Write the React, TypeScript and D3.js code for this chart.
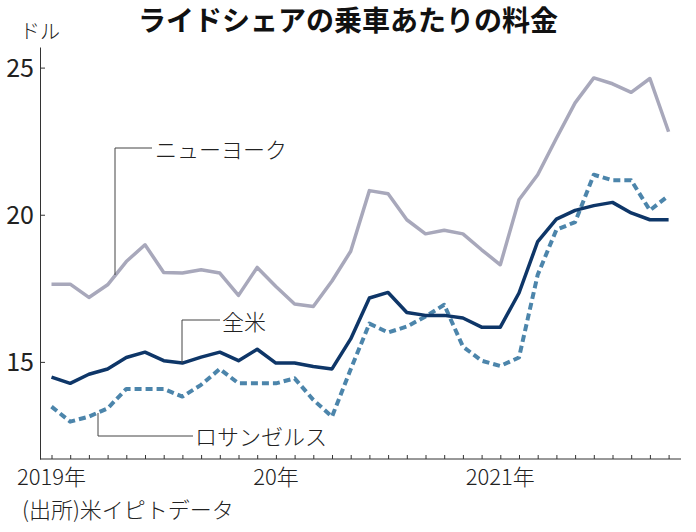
import { useEffect, useRef } from 'react'
import * as d3 from 'd3'

// monthly fares, Jan 2019 - Oct 2021 (USD per ride)
const newYork = [17.64, 17.64, 17.19, 17.62, 18.41, 18.98, 18.04, 18.02, 18.13, 18.02, 17.26, 18.21,
  17.56, 16.97, 16.88, 17.75, 18.76, 20.82, 20.71, 19.83, 19.35, 19.47, 19.35, 18.81,
  18.3, 20.51, 21.36, 22.6, 23.8, 24.65, 24.45, 24.16, 24.63, 22.82]
const national = [14.48, 14.27, 14.58, 14.76, 15.15, 15.33, 15.04, 14.96, 15.16, 15.33, 15.04, 15.43,
  14.96, 14.96, 14.84, 14.76, 15.78, 17.17, 17.36, 16.68, 16.58, 16.58, 16.49, 16.18,
  16.18, 17.34, 19.09, 19.85, 20.15, 20.31, 20.42, 20.06, 19.83, 19.83]
const losAngeles = [13.48, 12.97, 13.14, 13.42, 14.08, 14.08, 14.08, 13.82, 14.22, 14.76, 14.27, 14.27,
  14.27, 14.44, 13.71, 13.14, 14.75, 16.3, 16.0, 16.2, 16.54, 16.94, 15.52, 15.04,
  14.86, 15.15, 17.96, 19.49, 19.75, 21.36, 21.17, 21.17, 20.15, 20.65]

const months = d3.timeMonth.range(new Date(2019, 0, 1), new Date(2021, 10, 1)).map(d3.timeFormat('%Y-%m'))
const yearTicks = ['2019-01', '2020-01', '2021-01']
const yearLabels = ['2019年', '20年', '2021年']
const yTicks = [15, 20, 25]

const W = 696
const H = 532
const JP = "'Noto Sans CJK JP', sans-serif"
const NUM = "'Liberation Sans Narrow', 'Noto Sans CJK JP', sans-serif"

function App() {
  const svgRef = useRef<SVGSVGElement>(null)

  useEffect(() => {
    const svg = d3.select(svgRef.current)
    svg.selectAll('*').remove()

    const x = d3.scalePoint<string>().domain(months).range([51.5, 668.6])
    const y = d3.scaleLinear().domain([11.7, 25.7]).range([459, 47])

    // title + unit
    svg.append('text')
      .attr('x', 348).attr('y', 31)
      .attr('text-anchor', 'middle')
      .attr('font-family', JP).attr('font-weight', 700).attr('font-size', 28)
      .attr('fill', '#111')
      .text('ライドシェアの乗車あたりの料金')
    svg.append('text')
      .attr('x', 20).attr('y', 39)
      .attr('font-family', JP).attr('font-weight', 300).attr('font-size', 20).attr('fill', '#222')
      .text('ドル')

    // y axis, ticks pointing inward
    const yAxis = d3.axisLeft(y).tickValues(yTicks).tickSizeInner(-5).tickSizeOuter(0).tickPadding(6)
    const gy = svg.append('g').attr('transform', 'translate(40,0)').call(yAxis)
    gy.select('.domain').attr('stroke', '#333')
    gy.selectAll('.tick line').attr('stroke', '#333')
    gy.selectAll('.tick text')
      .attr('font-family', NUM).attr('font-size', 25).attr('fill', '#222')
      .attr('dy', '0.34em')

    // x axis: monthly ticks, year labels only
    svg.append('line')
      .attr('x1', 40).attr('x2', 681).attr('y1', 459).attr('y2', 459)
      .attr('stroke', '#333')
    const xAxis = d3.axisBottom(x).tickSize(-4).tickFormat(() => '')
    const gx = svg.append('g').attr('transform', 'translate(0,459)').call(xAxis)
    gx.select('.domain').remove()
    gx.selectAll('.tick line').attr('stroke', '#333')

    svg.append('g').selectAll('text')
      .data(yearTicks)
      .join('text')
        .attr('x', (d) => x(d)!)
        .attr('y', 485)
        .attr('text-anchor', 'middle')
        .attr('font-family', NUM).attr('font-weight', 300).attr('font-size', 22).attr('fill', '#222')
        .text((d, i) => yearLabels[i])

    // series
    const line = d3.line<number>()
      .x((d, i) => x(months[i])!)
      .y((d) => y(d))

    const series = [
      { values: newYork, color: '#a8a8bb', width: 3.5, dash: null },
      { values: losAngeles, color: '#4c85ab', width: 4, dash: '7 4' },
      { values: national, color: '#0e3668', width: 3.5, dash: null },
    ]
    svg.append('g').selectAll('path')
      .data(series)
      .join('path')
        .attr('d', (s) => line(s.values))
        .attr('fill', 'none')
        .attr('stroke', (s) => s.color)
        .attr('stroke-width', (s) => s.width)
        .attr('stroke-dasharray', (s) => s.dash)
        .attr('stroke-linejoin', 'round')

    // callouts
    const callouts = [
      { label: 'ニューヨーク', points: [[152, 148], [115, 148], [115, 275]], tx: 155, ty: 150 },
      { label: '全米', points: [[220, 320], [182, 320], [182, y(national[7])]], tx: 222, ty: 322 },
      { label: 'ロサンゼルス', points: [[193, 436], [98, 436], [98, 413]], tx: 195, ty: 437 },
    ]
    const gc = svg.append('g')
    callouts.forEach((c) => {
      gc.append('path')
        .attr('d', d3.line()(c.points as [number, number][]))
        .attr('fill', 'none').attr('stroke', '#444').attr('stroke-width', 1)
      gc.append('text')
        .attr('x', c.tx).attr('y', c.ty).attr('dy', '0.36em')
        .attr('font-family', JP).attr('font-weight', 300).attr('font-size', 22).attr('fill', '#222')
        .text(c.label)
    })

    // source
    svg.append('text')
      .attr('x', 22).attr('y', 518)
      .attr('font-family', JP).attr('font-weight', 300).attr('font-size', 22).attr('fill', '#222')
      .text('(出所)米イピトデータ')
  }, [])

  return (
    <svg
      ref={svgRef}
      width={W}
      height={H}
      style={{ position: 'absolute', left: 0, top: 0, background: '#fff', display: 'block' }}
    />
  )
}

export default App
